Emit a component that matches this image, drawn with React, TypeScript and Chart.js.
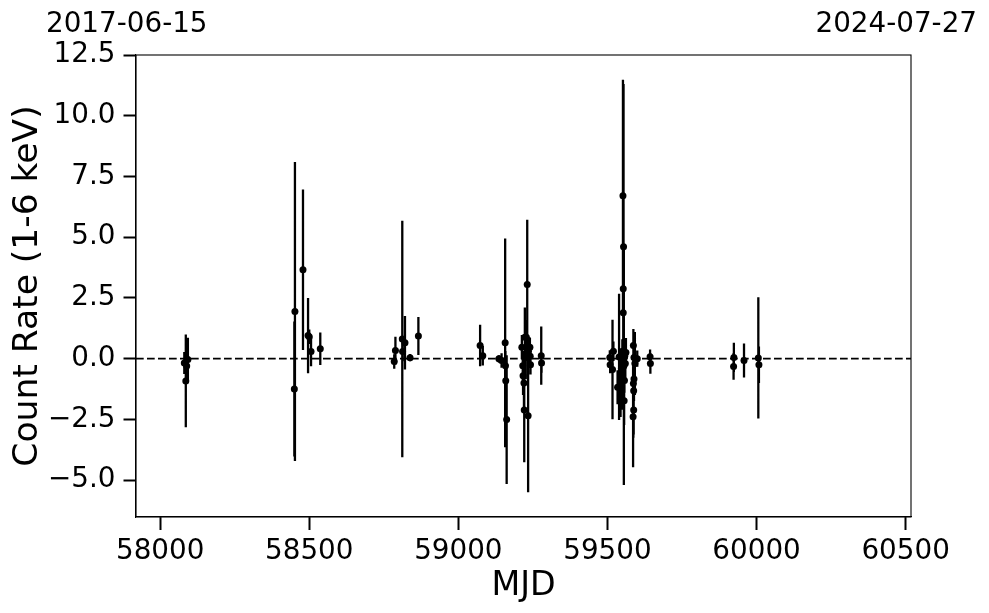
import React, { useEffect, useRef } from "react";
import { Chart, registerables } from "chart.js";

Chart.register(...registerables);

// Observation epochs (MJD), count rates (1-6 keV) and 1-sigma errors
const mjd: number[] = [
  58081, 58086, 58089, 58093,
  58450, 58452, 58479, 58496, 58500, 58506, 58537,
  58785, 58789, 58812, 58813, 58821, 58838, 58866,
  59073, 59082,
  59136, 59145, 59157, 59158, 59159, 59162,
  59213, 59216, 59217, 59220, 59221, 59223, 59226, 59228, 59231, 59234, 59235, 59240, 59241, 59242,
  59278, 59279,
  59508, 59509, 59517, 59520, 59534, 59539, 59544, 59545, 59547, 59548, 59550,
  59552, 59553, 59554, 59555, 59556, 59557, 59558, 59560, 59562, 59553,
  59586, 59587, 59587, 59588, 59588, 59589, 59589, 59592, 59600,
  59643, 59644,
  59923, 59924, 59958, 60006, 60008,
];
const rate: number[] = [
  -0.18, -0.92, -0.3, -0.04,
  -1.25, 1.94, 3.66, 0.95, 0.9, 0.29, 0.41,
  -0.12, 0.33, 0.81, 0.29, 0.65, 0.04, 0.93,
  0.54, 0.12,
  -0.01, -0.08, 0.65, -0.29, -0.91, -2.51,
  0.47, -0.29, -0.7, -1.0, -2.12, 0.88, 0.05, 0.88, 3.05, -2.35, 0.3, 0.47, 0.1, -0.25,
  0.12, -0.18,
  0.05, -0.25, -0.45, 0.3, -1.18, 0.07, -1.5, -0.63, -0.4, -0.9, 0.3,
  6.71, 2.88, 4.61, -0.3, -1.73, -0.9, 0.1, -0.2, 0.25, 1.89,
  -2.39, -1.02, 0.54, -2.12, -1.32, -0.84, 0.05, -0.2, 0.0,
  0.08, -0.2,
  -0.32, 0.05, -0.08, 0.03, -0.25,
];
const rateErr: number[] = [
  0.45, 1.91, 0.55, 0.9,
  2.78, 6.15, 3.3, 1.55, 0.3, 0.6, 0.67,
  0.3, 0.57, 4.87, 0.4, 1.1, 0.15, 0.78,
  0.85, 0.4,
  0.15, 0.3, 4.3, 0.6, 0.8, 2.65,
  0.5, 0.6, 0.8, 1.1, 2.15, 1.23, 0.9, 0.7, 2.67, 3.15, 0.6, 0.4, 0.35, 0.4,
  1.2, 0.4,
  0.3, 0.35, 2.05, 0.4, 0.7, 2.6, 0.9, 0.8, 0.6, 1.2, 0.5,
  4.77, 4.0, 6.7, 4.9, 1.0, 0.5, 0.5, 0.7, 0.6, 3.5,
  2.08, 2.24, 0.5, 1.0, 0.8, 0.9, 0.6, 1.3, 0.33,
  0.3, 0.42,
  0.55, 0.6, 0.7, 2.5, 0.75,
];

const xTicks: number[] = [58000, 58500, 59000, 59500, 60000, 60500];
const yTicks: number[] = [-5, -2.5, 0, 2.5, 5, 7.5, 10, 12.5];
const xRange: number[] = [57919, 60518];
const yRange: number[] = [-6.52, 12.5];
const startDate = "2017-06-15";
const endDate = "2024-07-27";
const xTitle = "MJD";
const yTitle = "Count Rate (1-6 keV)";

const FONT = "'DejaVu Sans', sans-serif";

const errorBarPlugin = {
  id: "errorBars",
  beforeDatasetsDraw(chart: any) {
    const { ctx, chartArea, scales } = chart;
    const xs = scales.x;
    const ys = scales.y;
    ctx.save();
    ctx.beginPath();
    ctx.rect(chartArea.left, chartArea.top, chartArea.right - chartArea.left, chartArea.bottom - chartArea.top);
    ctx.clip();
    ctx.strokeStyle = "#000";
    ctx.lineWidth = 2.3;
    ctx.beginPath();
    for (let i = 0; i < mjd.length; i++) {
      const px = xs.getPixelForValue(mjd[i]);
      ctx.moveTo(px, ys.getPixelForValue(rate[i] - rateErr[i]));
      ctx.lineTo(px, ys.getPixelForValue(rate[i] + rateErr[i]));
    }
    ctx.stroke();
    ctx.restore();
  },
};

const framePlugin = {
  id: "frameAndText",
  afterDraw(chart: any) {
    const { ctx, chartArea } = chart;
    ctx.save();
    ctx.strokeStyle = "#000";
    ctx.lineWidth = 1.1;
    ctx.strokeRect(chartArea.left, chartArea.top, chartArea.right - chartArea.left, chartArea.bottom - chartArea.top);
    ctx.fillStyle = "#000";
    ctx.textBaseline = "alphabetic";
    ctx.font = `27.8px ${FONT}`;
    ctx.textAlign = "left";
    ctx.fillText(startDate, 46, 32);
    ctx.textAlign = "right";
    ctx.fillText(endDate, 977, 32);
    ctx.font = `33.3px ${FONT}`;
    ctx.textAlign = "center";
    ctx.fillText(xTitle, (chartArea.left + chartArea.right) / 2, 595);
    ctx.translate(37, (chartArea.top + chartArea.bottom) / 2);
    ctx.rotate(-Math.PI / 2);
    ctx.font = `34.5px ${FONT}`;
    ctx.fillText(yTitle, 0, 0);
    ctx.restore();
  },
};

const fmtY = (v: number) => {
  const s = Math.abs(v).toFixed(1);
  return v < 0 ? "\u2212" + s : s;
};

export default function App() {
  const ref = useRef<HTMLCanvasElement | null>(null);
  useEffect(() => {
    if (!ref.current) return;
    const points = mjd.map((x, i) => ({ x, y: rate[i] }));
    const chart = new Chart(ref.current, {
      type: "scatter",
      data: {
        datasets: [
          {
            type: "line",
            data: [
              { x: xRange[0], y: 0 },
              { x: xRange[1], y: 0 },
            ],
            borderColor: "#000",
            borderWidth: 1.6,
            borderDash: [7.7, 3.3],
            pointRadius: 0,
            order: 2,
          } as any,
          {
            type: "scatter",
            data: points,
            pointRadius: 3.5,
            pointHoverRadius: 3.5,
            backgroundColor: "#000",
            borderWidth: 0,
            order: 1,
          },
        ],
      },
      options: {
        responsive: false,
        animation: false,
        devicePixelRatio: 1,
        layout: { padding: { top: 55, right: 78, left: 0, bottom: 0 } },
        plugins: { legend: { display: false }, tooltip: { enabled: false } },
        scales: {
          x: {
            type: "linear",
            min: xRange[0],
            max: xRange[1],
            afterBuildTicks: (s: any) => {
              s.ticks = xTicks.map((v) => ({ value: v }));
            },
            afterFit: (s: any) => {
              s.height = 96;
            },
            ticks: {
              autoSkip: false,
              maxRotation: 0,
              padding: 5,
              color: "#000",
              font: { family: FONT, size: 27.8 },
              callback: (v: any) => String(v),
            },
            grid: {
              drawOnChartArea: false,
              drawTicks: true,
              tickLength: 13,
              tickWidth: 2,
              tickColor: "#000",
            },
            border: { display: true, color: "#000", width: 1.1 },
          },
          y: {
            type: "linear",
            min: yRange[0],
            max: yRange[1],
            afterBuildTicks: (s: any) => {
              s.ticks = yTicks.map((v) => ({ value: v }));
            },
            afterFit: (s: any) => {
              s.width = 136;
            },
            ticks: {
              padding: 8,
              color: "#000",
              font: { family: FONT, size: 27.8 },
              callback: (v: any) => fmtY(Number(v)),
            },
            grid: {
              drawOnChartArea: false,
              drawTicks: true,
              tickLength: 12.5,
              tickWidth: 2,
              tickColor: "#000",
            },
            border: { display: true, color: "#000", width: 1.1 },
          },
        },
      },
      plugins: [errorBarPlugin, framePlugin],
    });
    return () => chart.destroy();
  }, []);
  return (
    <div style={{ position: "absolute", left: 0, top: 0, width: 989, height: 613, background: "#fff" }}>
      <canvas ref={ref} width={989} height={613} style={{ width: 989, height: 613, display: "block" }} />
    </div>
  );
}
